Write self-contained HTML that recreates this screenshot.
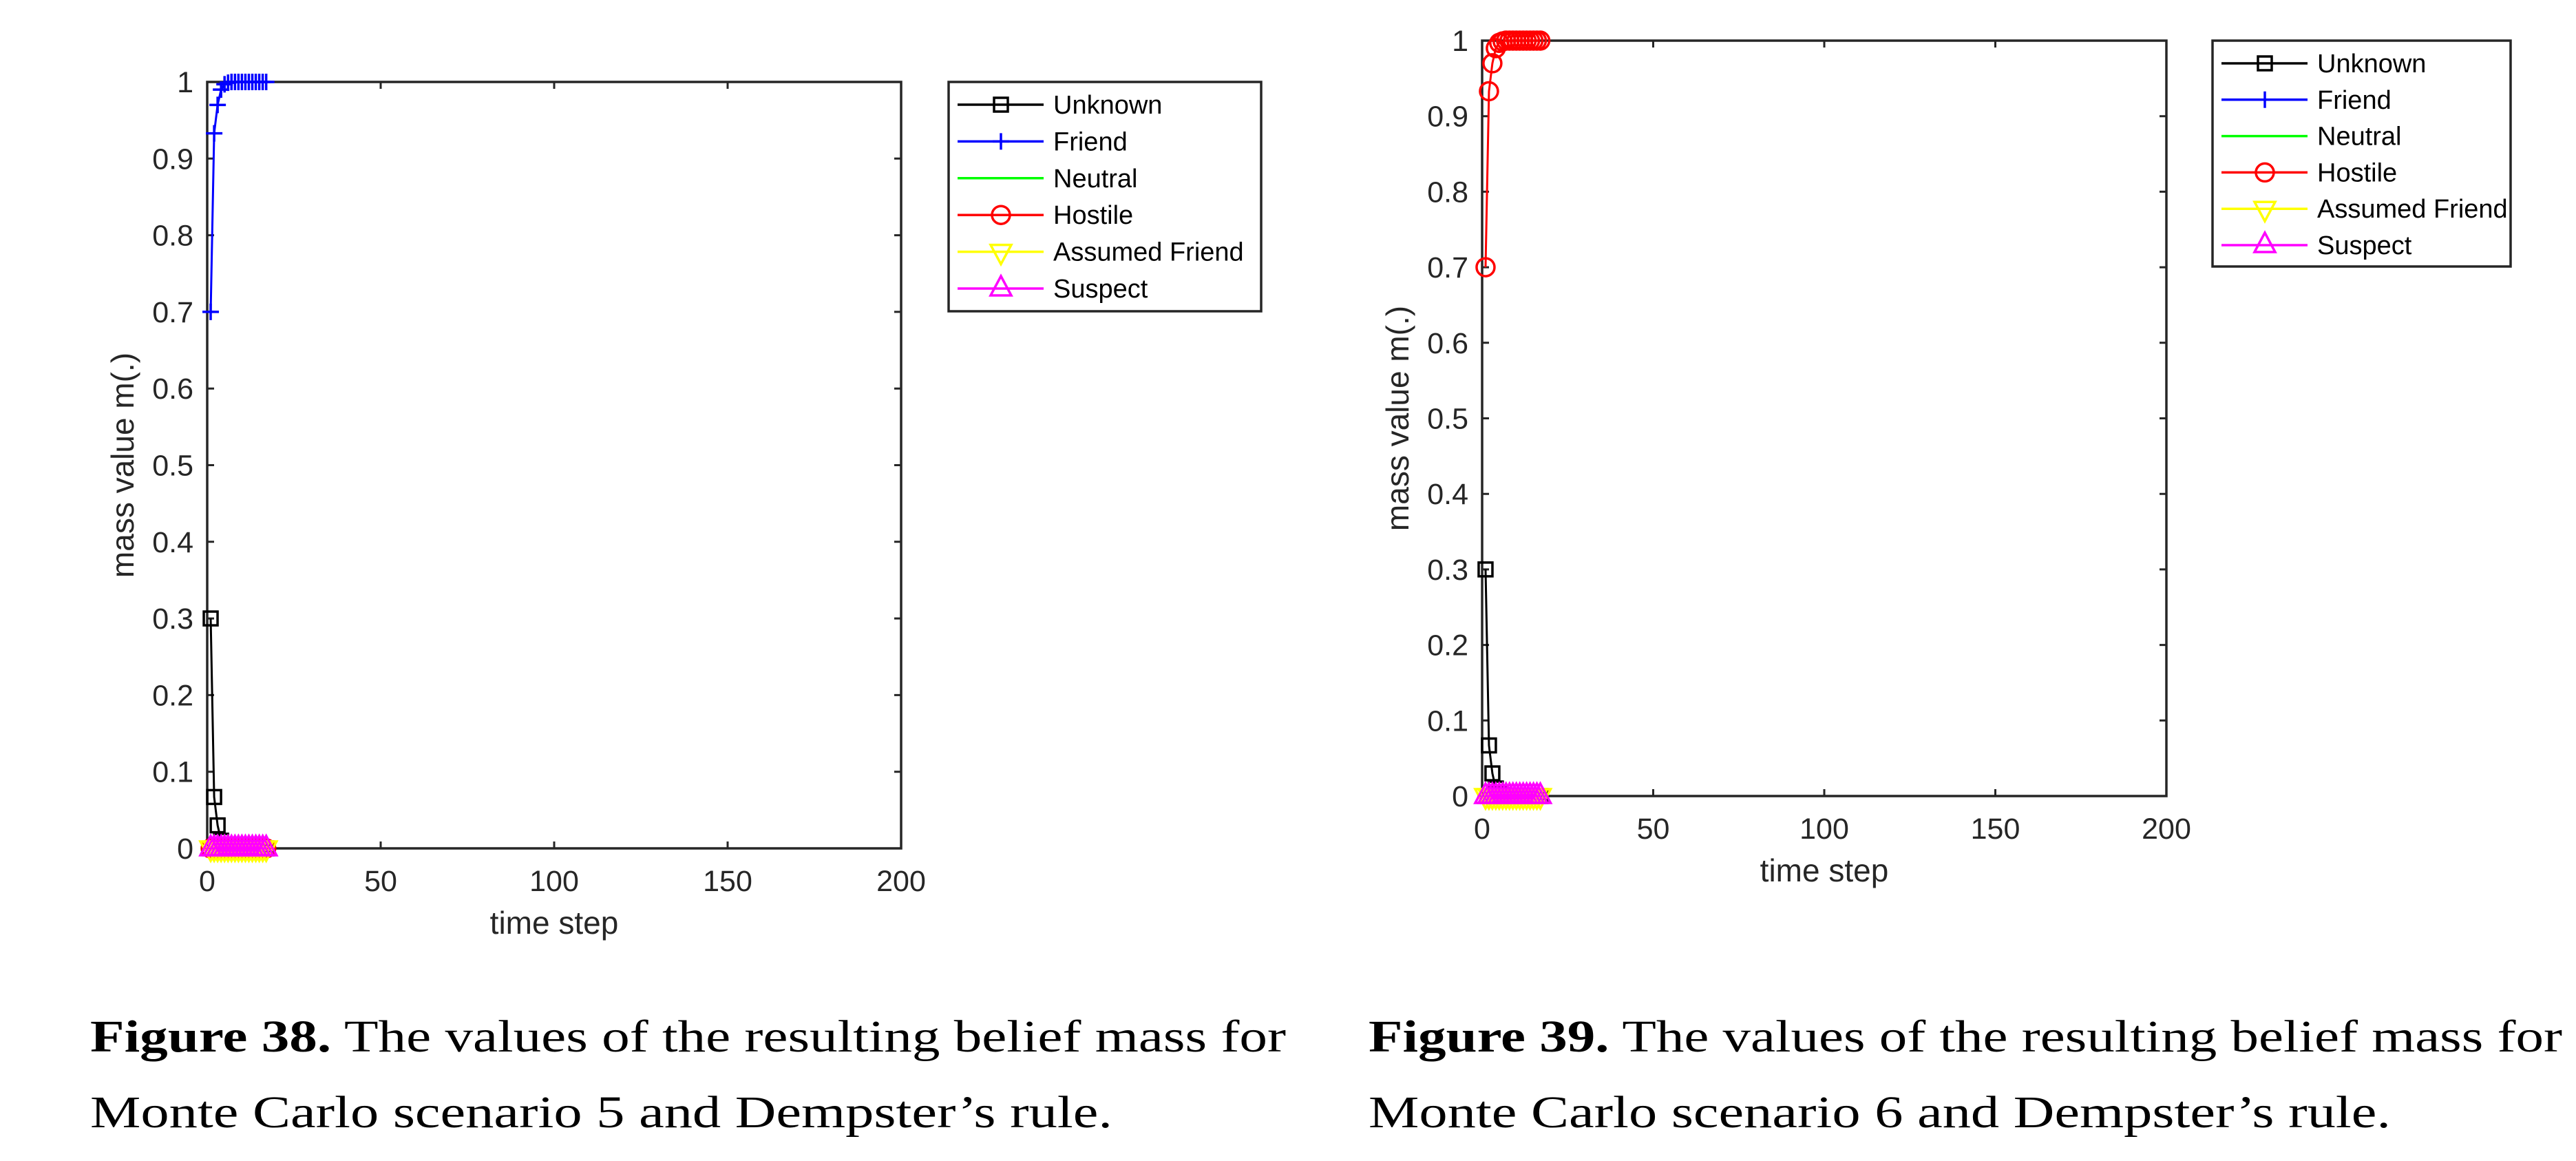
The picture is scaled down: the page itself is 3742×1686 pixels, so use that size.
<!DOCTYPE html>
<html><head><meta charset="utf-8"><style>
html,body{margin:0;padding:0;background:#fff;}
svg{display:block;}
text{font-family:"Liberation Sans",sans-serif;}
.cap{font-family:"Liberation Serif",serif;font-size:66px;fill:#000;}
</style></head><body>
<svg id="fig" width="3742" height="1686" viewBox="0 0 3742 1686" xmlns="http://www.w3.org/2000/svg">
<text class="cap" x="131" y="1527" textLength="1737" lengthAdjust="spacingAndGlyphs"><tspan font-weight="bold">Figure 38.</tspan> The values of the resulting belief mass for</text>
<text class="cap" x="131" y="1637" textLength="1485" lengthAdjust="spacingAndGlyphs">Monte Carlo scenario 5 and Dempster’s rule.</text>
<text class="cap" x="1988" y="1527" textLength="1734" lengthAdjust="spacingAndGlyphs"><tspan font-weight="bold">Figure 39.</tspan> The values of the resulting belief mass for</text>
<text class="cap" x="1988" y="1637" textLength="1485" lengthAdjust="spacingAndGlyphs">Monte Carlo scenario 6 and Dempster’s rule.</text>
</svg>
<script>
const timeSteps = [1,2,3,4,5,6,7,8,9,10,11,12,13,14,15,16,17];
const unknownValues = [0.3,0.067,0.03,0.01,0.003,0.001,0,0,0,0,0,0,0,0,0,0,0];
const dominantValues = [0.7,0.933,0.97,0.99,0.997,0.999,1,1,1,1,1,1,1,1,1,1,1];
const zeroValues = [0,0,0,0,0,0,0,0,0,0,0,0,0,0,0,0,0];
const xTicks = [0,50,100,150,200];
const yTicks = [0,0.1,0.2,0.3,0.4,0.5,0.6,0.7,0.8,0.9,1];
const seriesNames = ['Unknown','Friend','Neutral','Hostile','Assumed Friend','Suspect'];
const seriesColors = ['#000','#0000ff','#00ff00','#ff0000','#ffff00','#ff00ff'];
const seriesMarkers = ['square','plus','none','circle','tridown','triup'];

const NS='http://www.w3.org/2000/svg';
const svg=document.getElementById('fig');
function mk(tag,attrs,parent){const e=document.createElementNS(NS,tag);for(const k in attrs)e.setAttribute(k,attrs[k]);(parent||svg).appendChild(e);return e;}

function marker(g,type,x,y,color){
  let e=null;
  if(type==='square') e=mk('rect',{x:x-10,y:y-10,width:20,height:20,fill:'none',stroke:color,'stroke-width':3.5},g);
  else if(type==='plus') e=mk('path',{d:`M${x-12},${y}H${x+12}M${x},${y-12}V${y+12}`,stroke:color,'stroke-width':3.5,fill:'none'},g);
  else if(type==='circle') e=mk('circle',{cx:x,cy:y,r:13,fill:'none',stroke:color,'stroke-width':3.5},g);
  else if(type==='tridown') e=mk('path',{d:`M${x-15},${y-10}H${x+15}L${x},${y+18}Z`,fill:'none',stroke:color,'stroke-width':3.5},g);
  else if(type==='triup') e=mk('path',{d:`M${x-15},${y+10}H${x+15}L${x},${y-18}Z`,fill:'none',stroke:color,'stroke-width':3.5},g);
  if(e){
    
    
  }
}

function chart(cfg){
  const {L,T,R,B,legX,legY,legW,legH,rowH,dominant,id}=cfg;
  const g=mk('g',{});
  
  
  const sx=v=>L+(v-0)/(200-0)*(R-L);
  const sy=v=>B-(v-0)/(1-0)*(B-T);
  xTicks.forEach(t=>{
    const x=sx(t);
    mk('path',{d:`M${x},${B}V${B-10}M${x},${T}V${T+10}`,stroke:'#262626','stroke-width':3},g);
    const tx=mk('text',{x:x,y:B+62,'font-size':43,'text-anchor':'middle',fill:'#262626'},g);
    tx.textContent=t;
    
    
  });
  yTicks.forEach(t=>{
    const y=sy(t);
    mk('path',{d:`M${L},${y}H${L+10}M${R},${y}H${R-10}`,stroke:'#262626','stroke-width':3},g);
    const tx=mk('text',{x:L-20,y:y+15,'font-size':43,'text-anchor':'end',fill:'#262626'},g);
    tx.textContent=String(t);
    
    
  });
  const box=mk('rect',{x:L,y:T,width:R-L,height:B-T,fill:'none',stroke:'#262626','stroke-width':3.5},g);
  
  
  const xl=mk('text',{x:(L+R)/2,y:B+124,'font-size':46,'text-anchor':'middle',fill:'#262626'},g);
  xl.textContent='time step';
  
  
  const yl=mk('text',{x:0,y:0,'font-size':46,'text-anchor':'middle',fill:'#262626',transform:`translate(${L-107},${(T+B)/2}) rotate(-90)`},g);
  yl.textContent='mass value m(.)';
  
  
  const data=[unknownValues, dominant===1?dominantValues:zeroValues, zeroValues, dominant===3?dominantValues:zeroValues, zeroValues, zeroValues];
  const order=[0,1,2,3,4,5];
  order.forEach(i=>{
    const sg=mk('g',{},g);
    
    
    const pts=timeSteps.map((t,k)=>[sx(t),sy(data[i][k])]);
    mk('polyline',{points:pts.map(p=>p.join(',')).join(' '),fill:'none',stroke:seriesColors[i],'stroke-width':3},sg);
    pts.forEach(p=>marker(sg,seriesMarkers[i],p[0],p[1],seriesColors[i]));
  });
  const lg=mk('g',{},g);
  
  
  mk('rect',{x:legX,y:legY,width:legW,height:legH,fill:'#fff',stroke:'#262626','stroke-width':3.5},lg);
  seriesNames.forEach((n,i)=>{
    const y=legY+33+i*rowH;
    const eg=mk('g',{},lg);
    
    
    mk('line',{x1:legX+13,x2:legX+138,y1:y,y2:y,stroke:seriesColors[i],'stroke-width':3.5},eg);
    marker(eg,seriesMarkers[i],legX+76,y,seriesColors[i]);
    const t=mk('text',{x:legX+152,y:y+13,'font-size':38,fill:'#000'},eg);
    t.textContent=n;
  });
}
chart({id:'chart-scenario-5',L:301,T:119,R:1309,B:1232,legX:1378,legY:119,legW:454,legH:333,rowH:53.4,dominant:1});
chart({id:'chart-scenario-6',L:2153,T:59,R:3147,B:1156,legX:3214,legY:59,legW:433,legH:328,rowH:52.8,dominant:3});
</script>
</body></html>
